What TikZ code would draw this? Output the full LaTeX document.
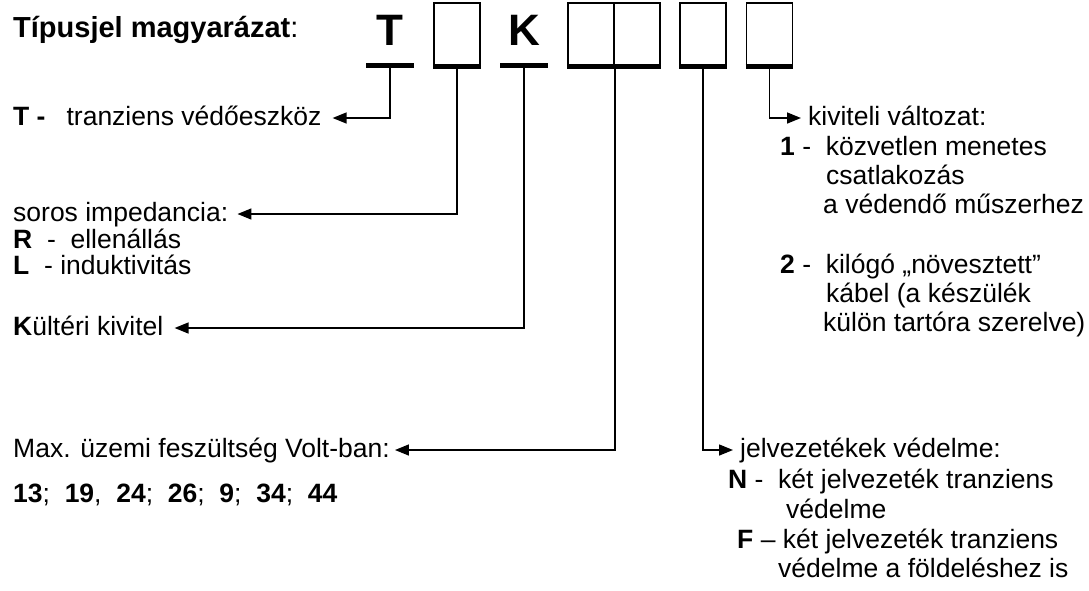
\documentclass[tikz,border=0pt]{standalone}
\usepackage{fontspec}
\setmainfont{Liberation Sans}
\usetikzlibrary{arrows.meta,positioning}
\tikzset{>={Triangle[length=14pt,width=11pt]},line width=1.5pt,
  txt/.style={anchor=west,inner sep=0pt,font=\fontsize{26.5}{30}\selectfont,
    text height=19pt,text depth=5pt},
  title/.style={txt,font=\fontsize{29}{32}\selectfont\bfseries},
  code/.style={inner sep=0pt,font=\fontsize{44}{48}\selectfont\bfseries},
  slot/.style={draw,line width=1.8pt,minimum width=46pt,minimum height=62.5pt,inner sep=0pt},
  bar/.style={line width=5pt},
  conn/.style={->,line width=1.5pt}}
\begin{document}
\begin{tikzpicture}[x=1pt,y=-1pt]
\useasboundingbox (0,0) rectangle (1089,590);
\node[title] (head) at (13,30) {Típusjel magyarázat\mdseries:};
% code letters and slots
\node[code] (lT) at (390,30) {T};
\coordinate (pT) at (390,65.5);
\draw[bar] ([xshift=-24pt]pT) -- ([xshift=24pt]pT);
\node[slot] (b2) at (457,34.25) {};
\node[code] (lK) at (524,30) {K};
\coordinate (pK) at (524,65.5);
\draw[bar] ([xshift=-24pt]pK) -- ([xshift=24pt]pK);
\node[slot] (b4a) at (591,34.25) {};
\node[slot] (b4b) at (637,34.25) {};
\node[slot] (b5) at (703,34.25) {};
\node[slot] (b6) at (769.5,34.25) {};
\foreach \b in {b2,b4a,b4b,b5,b6}
  \draw[bar] (\b.south west) -- (\b.south east);
% left column
\node[txt] (tdesc) at (13,118) {\textbf{T -}\hspace{21pt}tranziens védőeszköz};
\node[txt] (soros) at (13,214) {soros impedancia:};
\node[txt] (rline) at (13,241) {\textbf{R}\ \ -\ \ ellenállás};
\node[txt] (lline) at (13,267) {\textbf{L}\ \ - induktivitás};
\node[txt] (kult) at (13,328) {\textbf{K}ültéri kivitel};
\node[txt] (volt) at (13,450) {Max. üzemi feszültség Volt-ban:};
\node[txt] (nums) at (13,495) {\textbf{13};\ \ \textbf{19},\ \ \textbf{24};\ \ \textbf{26};\ \ \textbf{9};\ \ \textbf{34};\ \ \textbf{44}};
% right column
\node[txt] (kiv) at (808,118) {kiviteli változat:};
\node[txt] (v1a) at (780,148) {\textbf{1} -\ \ közvetlen menetes};
\node[txt] (v1b) at (826,177) {csatlakozás};
\node[txt] (v1c) at (823,206) {a védendő műszerhez};
\node[txt] (v2a) at (780,266) {\textbf{2} -\ \ kilógó „növesztett”};
\node[txt] (v2b) at (826,295) {kábel (a készülék};
\node[txt] (v2c) at (823,324) {külön tartóra szerelve)};
\node[txt] (jel) at (740,450) {jelvezetékek védelme:};
\node[txt] (jNa) at (728,481) {\textbf{N} -\ \ két jelvezeték tranziens};
\node[txt] (jNb) at (786,511) {védelme};
\node[txt] (jFa) at (737,541) {\textbf{F} – két jelvezeték tranziens};
\node[txt] (jFb) at (778,570) {védelme a földeléshez is};
% connectors
\draw[conn] (pT) |- ([xshift=11pt]tdesc.east);
\draw[conn] (b2.south) |- ([xshift=9pt]soros.east);
\draw[conn] (pK) |- ([xshift=11pt]kult.east);
\draw[conn] (b4a.south east) |- ([xshift=5pt]volt.east);
\draw[conn] (b5.south) |- ([xshift=-7pt]jel.west);
\draw[conn] (b6.south) |- ([xshift=-7pt]kiv.west);
\end{tikzpicture}
\end{document}
